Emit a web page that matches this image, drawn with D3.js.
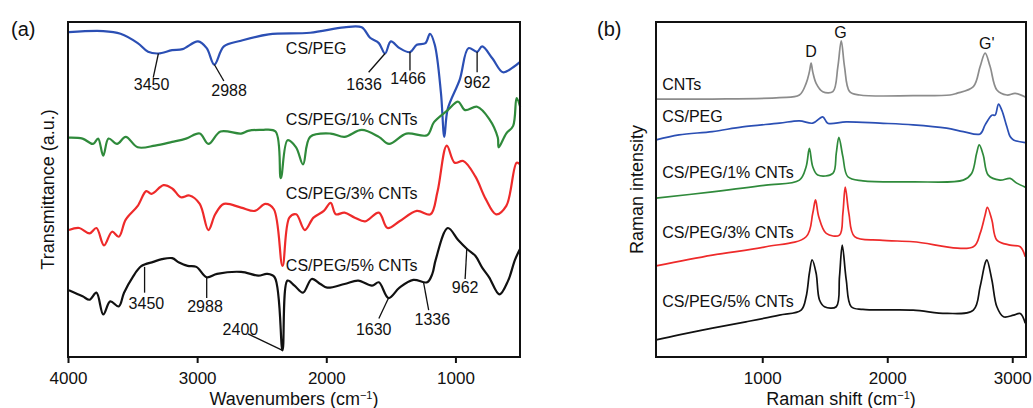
<!DOCTYPE html>
<html>
<head>
<meta charset="utf-8">
<script src="https://cdn.jsdelivr.net/npm/d3@7"></script>
<style>
  body { margin: 0; background: #fff; }
  svg { font-family: "Liberation Sans", Arial, sans-serif; }
</style>
</head>
<body>
<svg id="chart" width="1033" height="408"></svg>
<script>
// ---- FTIR spectra (wavenumber cm-1, transmittance a.u.) ----
const ftirCsPeg = [[3993,97.0],[3727,97.3],[3593,96.5],[3460,93.7],[3380,91.1],[3300,90.6],[3194,91.6],[3113,91.9],
  [2993,94.2],[2926,92.2],[2867,87.3],[2793,92.7],[2660,94.4],[2446,96.3],[2125,96.8],[1862,98.4],[1726,98.4],
  [1661,95.3],[1593,93.7],[1545,90.6],[1500,94.2],[1433,92.2],[1352,91.0],[1299,93.2],[1232,93.7],[1197,96.5],
  [1160,93.2],[1112,78.8],[1086,65.7],[1060,74.0],[966,82.9],[899,92.2],[832,91.1],[793,92.7],[713,89.1],[632,85.0],
  [553,86.5],[499,88.1]];
const ftirCnt1 = [[3993,65.5],[3887,65.2],[3806,63.6],[3767,65.2],[3727,60.1],[3686,65.2],[3620,63.6],[3553,65.7],
  [3460,62.6],[3326,63.1],[3194,64.2],[3086,65.2],[2980,66.7],[2913,63.6],[2819,67.3],[2660,66.7],[2606,67.5],
  [2500,67.8],[2393,67.3],[2352,53.4],[2300,64.7],[2234,62.6],[2180,57.5],[2125,65.7],[1966,66.7],[1859,65.7],
  [1726,67.8],[1593,65.7],[1514,63.6],[1380,66.7],[1219,66.2],[1166,70.1],[1059,73.7],[979,76.2],[925,73.7],
  [832,74.7],[739,71.1],[672,65.5],[665,62.6],[607,66.7],[553,69.0],[526,77.3],[499,74.7]];
const ftirCnt3 = [[3993,37.9],[3913,38.5],[3833,36.9],[3780,38.5],[3721,33.3],[3659,37.4],[3607,35.9],[3553,41.0],
  [3460,45.1],[3394,49.5],[3353,48.7],[3260,51.3],[3193,50.3],[3126,47.7],[3060,48.2],[2980,45.7],[2913,37.9],
  [2860,42.6],[2793,45.7],[2660,44.6],[2553,43.6],[2472,45.7],[2406,44.1],[2339,27.2],[2286,41.6],[2233,42.6],
  [2166,37.9],[2099,41.6],[2019,43.6],[1966,46.0],[1926,42.6],[1859,43.1],[1779,41.6],[1699,40.5],[1593,43.1],
  [1526,38.5],[1433,40.5],[1299,43.6],[1193,42.6],[1139,49.3],[1067,63.1],[1006,58.0],[939,58.5],[846,53.9],
  [766,47.2],[685,42.6],[606,45.1],[526,58.0],[499,57.5]];
const ftirCnt5 = [[3993,19.9],[3887,18.1],[3833,17.1],[3780,19.2],[3727,12.7],[3673,16.6],[3607,15.1],[3566,19.2],
  [3500,23.8],[3433,27.1],[3340,28.4],[3273,29.2],[3193,29.5],[3140,28.2],[3073,27.2],[3006,26.9],[2926,23.8],
  [2846,24.8],[2660,25.4],[2526,24.3],[2459,24.8],[2400,23.8],[2339,2.0],[2300,22.8],[2246,21.3],[2180,19.2],
  [2113,23.3],[2046,21.8],[1993,20.7],[1859,21.8],[1753,22.8],[1646,21.3],[1593,22.3],[1518,17.6],[1433,20.7],
  [1326,23.0],[1219,22.3],[1179,24.8],[1153,29.0],[1059,38.5],[979,34.9],[912,32.3],[846,30.2],[793,26.7],
  [739,23.8],[659,18.7],[592,22.8],[539,29.0],[499,32.3]];

// ---- Raman spectra (shift cm-1, intensity a.u.) ----
const ramanCnts = [[151,77.0],[601,77.0],[1137,77.4],[1297,78.2],[1351,81.7],[1377,85.1],[1391,87.7],[1404,85.1],
  [1431,81.7],[1484,79.2],[1565,79.2],[1605,86.7],[1632,94.4],[1658,86.7],[1699,79.2],[1779,78.2],[2207,78.0],
  [2502,78.2],[2555,78.7],[2689,80.7],[2743,86.7],[2783,90.7],[2823,86.7],[2877,79.7],[2957,78.2],[3024,78.7],
  [3104,77.6]];
const ramanCsPeg = [[151,64.8],[334,66.3],[601,67.3],[842,68.7],[1137,69.8],[1297,70.5],[1404,69.8],[1484,71.7],
  [1524,69.8],[1672,70.2],[1940,69.8],[2207,69.3],[2475,68.3],[2608,67.3],[2743,66.6],[2783,69.3],[2837,72.2],
  [2863,72.2],[2890,75.5],[2917,73.6],[2957,68.7],[2983,65.8],[3010,64.8],[3104,64.0]];
const ramanCnt1 = [[151,47.4],[601,49.3],[1030,51.3],[1297,52.8],[1351,56.8],[1377,62.3],[1404,56.8],[1444,54.3],
  [1565,54.8],[1592,60.8],[1613,65.6],[1645,59.8],[1685,53.8],[1805,52.6],[2207,52.3],[2608,52.8],[2675,54.8],
  [2715,60.8],[2736,63.3],[2768,60.3],[2808,54.3],[2902,52.8],[2983,53.3],[3036,51.9],[3104,50.7]];
const ramanCnt3 = [[151,27.2],[601,30.4],[1030,32.9],[1351,35.9],[1404,42.9],[1426,46.9],[1452,41.9],[1512,36.9],
  [1618,36.4],[1645,42.9],[1664,50.7],[1693,42.9],[1739,35.9],[1940,34.9],[2207,34.4],[2689,32.9],[2743,36.9],
  [2783,42.4],[2801,44.7],[2837,40.9],[2877,34.9],[2983,33.4],[3064,32.9],[3104,29.9]];
const ramanCnt5 = [[151,5.1],[334,6.6],[601,8.6],[869,10.5],[1137,12.5],[1311,14.0],[1351,18.0],[1377,25.0],
  [1399,29.0],[1431,25.0],[1458,17.0],[1498,15.0],[1592,15.0],[1618,24.0],[1640,33.4],[1672,23.0],[1712,15.0],
  [1805,14.2],[2207,14.0],[2475,13.0],[2689,14.0],[2743,21.0],[2783,28.0],[2797,29.0],[2837,23.0],[2877,15.0],
  [2930,12.0],[3010,12.5],[3064,13.0],[3104,10.1]];

// tick labels
const ftirTicks = [4000, 3000, 2000, 1000];
const ramanTicks = [1000, 2000, 3000];

// series names and label anchors (x, y in data units)
const ftirNames = ["CS/PEG", "CS/PEG/1% CNTs", "CS/PEG/3% CNTs", "CS/PEG/5% CNTs"];
const ftirNamePos = [[2313, 90.3], [2313, 69.3], [2313, 47.2], [2313, 25.7]];
const ramanNames = ["CNTs", "CS/PEG", "CS/PEG/1% CNTs", "CS/PEG/3% CNTs", "CS/PEG/5% CNTs"];
const ramanNamePos = [[200, 79.7], [200, 70.1], [200, 53.3], [200, 35.4], [200, 15.0]];

// FTIR peak annotations: label, leader line from -> to, text position
const ftirPeaks = [
  { text: "3450", from: [3300, 90.6], to: [3340, 83.4], at: [3353, 79.7] },
  { text: "2988", from: [2867, 87.3], to: [2793, 82.4], at: [2753, 77.9] },
  { text: "1636", from: [1545, 90.6], to: [1672, 85.0], at: [1707, 79.7] },
  { text: "1466", from: [1352, 91.1], to: [1352, 85.5], at: [1366, 81.4] },
  { text: "962",  from: [832, 91.1],  to: [832, 85.0],  at: [832, 80.2] },
  { text: "3450", from: [3407, 26.9], to: [3407, 19.2], at: [3393, 14.4] },
  { text: "2988", from: [2926, 23.8], to: [2926, 17.6], at: [2939, 13.4] },
  { text: "2400", from: [2606, 6.9],  to: [2339, 2.0],  at: [2665, 6.7] },
  { text: "1630", from: [1518, 17.6], to: [1593, 11.5], at: [1633, 6.7] },
  { text: "1336", from: [1247, 22.3], to: [1207, 14.0], at: [1179, 9.6] },
  { text: "962",  from: [912, 32.3],  to: [925, 23.3],  at: [925, 19.0] }
];
// Raman band labels
const ramanBands = [
  { text: "D", at: [1391, 89.6] },
  { text: "G", at: [1626, 95.1] },
  { text: "G'", at: [2796, 91.9] }
];

const svg = d3.select("#chart");
const plotTop = 22, plotBottom = 357;

function drawPanel(cfg) {
  const x = d3.scaleLinear().domain(cfg.xDomain).range(cfg.xRange);
  const y = d3.scaleLinear().domain([0, 100]).range([plotBottom, plotTop]);
  const g = svg.append("g");

  const line = d3.line()
    .x(d => x(d[0]))
    .y(d => y(d[1]))
    .curve(d3.curveCatmullRom.alpha(0.5));

  g.selectAll(".spec")
    .data(cfg.series)
    .enter()
    .append("path")
    .attr("class", "spec")
    .attr("d", d => line(d))
    .attr("fill", "none")
    .attr("stroke", (d, i) => cfg.colors[i])
    .attr("stroke-width", cfg.lineWidth)
    .attr("stroke-linejoin", "round");

  // frame
  g.append("rect")
    .attr("x", cfg.xRange[0])
    .attr("y", plotTop)
    .attr("width", cfg.xRange[1] - cfg.xRange[0])
    .attr("height", plotBottom - plotTop)
    .attr("fill", "none")
    .attr("stroke", "#111")
    .attr("stroke-width", 2);

  const axis = g.append("g")
    .attr("transform", `translate(0,${plotBottom})`)
    .call(d3.axisBottom(x).tickValues(cfg.ticks).tickFormat(d3.format("d")).tickSize(6).tickPadding(9));
  axis.select(".domain").remove();
  axis.selectAll(".tick line").attr("stroke", "#111").attr("stroke-width", 2);
  axis.selectAll(".tick text")
    .attr("font-size", 17)
    .attr("font-family", "Liberation Sans, Arial, sans-serif")
    .attr("fill", "#111");

  // series names
  g.selectAll(".name")
    .data(cfg.names)
    .enter()
    .append("text")
    .attr("x", (d, i) => x(cfg.namePos[i][0]))
    .attr("y", (d, i) => y(cfg.namePos[i][1]))
    .attr("font-size", 16)
    .attr("fill", "#111")
    .text(d => d);

  // x title
  const xt = g.append("text")
    .attr("x", (cfg.xRange[0] + cfg.xRange[1]) / 2)
    .attr("y", 405)
    .attr("text-anchor", "middle")
    .attr("font-size", 18)
    .attr("fill", "#111");
  xt.append("tspan").text(cfg.xTitle + " (cm");
  xt.append("tspan").attr("dy", -6).attr("font-size", 11).text("\u22121");
  xt.append("tspan").attr("dy", 6).text(")");

  // y title
  g.append("text")
    .attr("transform", `translate(${cfg.yTitleX},${(plotTop + plotBottom) / 2}) rotate(-90)`)
    .attr("text-anchor", "middle")
    .attr("font-size", 18)
    .attr("fill", "#111")
    .text(cfg.yTitle);

  // panel letter
  g.append("text")
    .attr("x", cfg.letterX)
    .attr("y", 36)
    .attr("font-size", 20)
    .attr("fill", "#111")
    .text(cfg.letter);

  return { g, x, y };
}

const a = drawPanel({
  xDomain: [4000, 500], xRange: [68, 520],
  series: [ftirCsPeg, ftirCnt1, ftirCnt3, ftirCnt5],
  colors: ["#2b4fb4", "#2f8a3b", "#ee2a2a", "#111111"],
  lineWidth: 2.2,
  ticks: ftirTicks,
  names: ftirNames, namePos: ftirNamePos,
  xTitle: "Wavenumbers", yTitle: "Transmittance (a.u.)", yTitleX: 54,
  letter: "(a)", letterX: 11
});

// peak leader lines and labels
a.g.selectAll(".lead")
  .data(ftirPeaks)
  .enter()
  .append("line")
  .attr("x1", d => a.x(d.from[0]))
  .attr("y1", d => a.y(d.from[1]))
  .attr("x2", d => a.x(d.to[0]))
  .attr("y2", d => a.y(d.to[1]))
  .attr("stroke", "#111")
  .attr("stroke-width", 1.3);
a.g.selectAll(".peak")
  .data(ftirPeaks)
  .enter()
  .append("text")
  .attr("x", d => a.x(d.at[0]))
  .attr("y", d => a.y(d.at[1]))
  .attr("text-anchor", "middle")
  .attr("font-size", 16)
  .attr("fill", "#111")
  .text(d => d.text);

const b = drawPanel({
  xDomain: [150, 3110], xRange: [656, 1026],
  series: [ramanCnts, ramanCsPeg, ramanCnt1, ramanCnt3, ramanCnt5],
  colors: ["#8c8c8c", "#2b4fb4", "#2f8a3b", "#ee2a2a", "#111111"],
  lineWidth: 1.7,
  ticks: ramanTicks,
  names: ramanNames, namePos: ramanNamePos,
  xTitle: "Raman shift", yTitle: "Raman intensity", yTitleX: 643,
  letter: "(b)", letterX: 597
});

b.g.selectAll(".band")
  .data(ramanBands)
  .enter()
  .append("text")
  .attr("x", d => b.x(d.at[0]))
  .attr("y", d => b.y(d.at[1]))
  .attr("text-anchor", "middle")
  .attr("font-size", 16)
  .attr("fill", "#111")
  .text(d => d.text);
</script>
</body>
</html>
